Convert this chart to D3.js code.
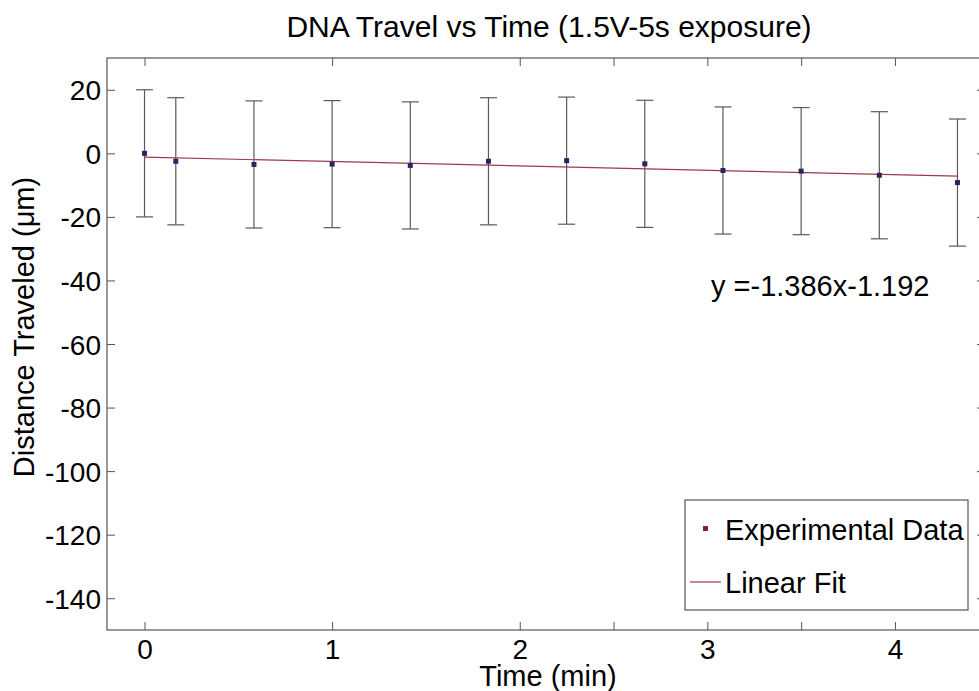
<!DOCTYPE html>
<html>
<head>
<meta charset="utf-8">
<script src="https://cdn.jsdelivr.net/npm/d3@7"></script>
<style>
  html, body { margin: 0; padding: 0; background: #fff; }
  svg { display: block; }
  text { font-family: "Liberation Sans", Arial, sans-serif; fill: #000; }
</style>
</head>
<body>
<svg id="chart" width="979" height="691"></svg>
<script>
// Measured travel of DNA over time, minutes vs micrometres
const timeMin = [0, 0.1667, 0.5833, 1.0, 1.4167, 1.8333, 2.25, 2.6667, 3.0833, 3.5, 3.9167, 4.3333];
const distance = [0, -2.5, -3.5, -3.4, -3.8, -2.5, -2.3, -3.3, -5.4, -5.6, -6.9, -9.2];
const errHalf = [20, 20, 20, 20, 20, 20, 20, 20, 20, 20, 20, 20];

// Linear fit y = slope * x + intercept
const fitSlope = -1.386;
const fitIntercept = -1.192;
const fitLabel = "y =-1.386x-1.192";

const xTicks = [0, 1, 2, 2.5, 3, 3.5, 4];
const xTickLabels = ["0", "1", "2", "", "3", "", "4"];
const yTicks = [-140, -120, -100, -80, -60, -40, -20, 0, 20];
const yTickLabels = ["-140", "-120", "-100", "-80", "-60", "-40", "-20", "0", "20"];

const titleText = "DNA Travel vs Time (1.5V-5s exposure)";
const xLabel = "Time (min)";
const yLabel = "Distance Traveled (\u03bcm)";
const legendLabels = ["Experimental Data", "Linear Fit"];

const svg = d3.select("#chart");
const plot = { left: 107, right: 985, top: 58, bottom: 630 };

const x = d3.scaleLinear().domain([-0.2, 4.48]).range([plot.left, plot.right]);
const y = d3.scaleLinear().domain([-150, 30]).range([plot.bottom, plot.top]);

const axisColor = "#555";
const tickFont = 28;
const textFont = 29;
const titleFont = 30;

// Frame of the axes box
svg.append("rect")
  .attr("x", plot.left).attr("y", plot.top)
  .attr("width", plot.right - plot.left).attr("height", plot.bottom - plot.top)
  .attr("fill", "#fff").attr("stroke", axisColor).attr("stroke-width", 1.2);

// Axes: ticks point inward on all four sides
function styleAxis(g) {
  g.select(".domain").remove();
  g.selectAll(".tick line").attr("stroke", axisColor).attr("stroke-width", 1);
  g.selectAll(".tick text")
    .style("font-family", '"Liberation Sans", Arial, sans-serif')
    .style("font-size", tickFont + "px")
    .attr("fill", "#000");
}

const xBottom = svg.append("g").attr("transform", `translate(0,${plot.bottom})`)
  .call(d3.axisBottom(x).tickValues(xTicks)
    .tickFormat((d, i) => xTickLabels[i]).tickSizeInner(-8).tickSizeOuter(0));
styleAxis(xBottom);
xBottom.selectAll(".tick text").attr("y", 9).attr("dy", "0.71em");

const xTop = svg.append("g").attr("transform", `translate(0,${plot.top})`)
  .call(d3.axisTop(x).tickValues(xTicks).tickFormat("").tickSizeInner(-8).tickSizeOuter(0));
styleAxis(xTop);

const yLeft = svg.append("g").attr("transform", `translate(${plot.left},0)`)
  .call(d3.axisLeft(y).tickValues(yTicks).tickFormat((d, i) => yTickLabels[i])
    .tickSizeInner(-8).tickSizeOuter(0));
styleAxis(yLeft);
yLeft.selectAll(".tick text").attr("x", -6).attr("dy", "0.36em");

const yRight = svg.append("g").attr("transform", `translate(${plot.right},0)`)
  .call(d3.axisRight(y).tickValues(yTicks).tickFormat("").tickSizeInner(-8).tickSizeOuter(0));
styleAxis(yRight);

// Error bars
const data = timeMin.map((t, i) => ({ t, d: distance[i], e: errHalf[i] }));
const capHalf = 8.5;
const eb = svg.append("g").attr("stroke", "#5a5a5a").attr("stroke-width", 1.2).attr("fill", "none");
eb.selectAll("line.v").data(data).join("line").attr("class", "v")
  .attr("x1", p => x(p.t)).attr("x2", p => x(p.t))
  .attr("y1", p => y(p.d + p.e)).attr("y2", p => y(p.d - p.e));
eb.selectAll("line.top").data(data).join("line").attr("class", "top")
  .attr("x1", p => x(p.t) - capHalf).attr("x2", p => x(p.t) + capHalf)
  .attr("y1", p => y(p.d + p.e)).attr("y2", p => y(p.d + p.e));
eb.selectAll("line.bot").data(data).join("line").attr("class", "bot")
  .attr("x1", p => x(p.t) - capHalf).attr("x2", p => x(p.t) + capHalf)
  .attr("y1", p => y(p.d - p.e)).attr("y2", p => y(p.d - p.e));

// Fitted line across the measured time span
const fitColor = "#9a3a4c";
const xs = d3.extent(timeMin);
const fitLine = d3.line().x(t => x(t)).y(t => y(fitSlope * t + fitIntercept));
svg.append("path").datum(xs)
  .attr("d", fitLine).attr("fill", "none").attr("stroke", fitColor).attr("stroke-width", 1.2);

// Data markers
const markerColor = "#2c2460";
const ms = 5;
svg.append("g").selectAll("rect").data(data).join("rect")
  .attr("x", p => x(p.t) - ms / 2).attr("y", p => y(p.d) - ms / 2)
  .attr("width", ms).attr("height", ms).attr("fill", markerColor);

// Fit equation
svg.append("text").attr("x", 711).attr("y", 296)
  .style("font-size", textFont + "px").text(fitLabel);

// Title and axis labels
svg.append("text").attr("x", 549).attr("y", 37).attr("text-anchor", "middle")
  .style("font-size", titleFont + "px").text(titleText);
svg.append("text").attr("x", 548).attr("y", 686).attr("text-anchor", "middle")
  .style("font-size", textFont + "px").text(xLabel);
svg.append("text").attr("transform", "translate(34,327) rotate(-90)").attr("text-anchor", "middle")
  .style("font-size", textFont + "px").text(yLabel);

// Legend
const lg = svg.append("g");
lg.append("rect").attr("x", 685).attr("y", 500).attr("width", 283).attr("height", 110)
  .attr("fill", "#fff").attr("stroke", axisColor).attr("stroke-width", 1.2);
lg.append("rect").attr("x", 703).attr("y", 526).attr("width", 5).attr("height", 5).attr("fill", "#8b1c3c");
lg.append("text").attr("x", 725).attr("y", 540).style("font-size", textFont + "px").text(legendLabels[0]);
lg.append("line").attr("x1", 690).attr("x2", 721).attr("y1", 582).attr("y2", 582)
  .attr("stroke", fitColor).attr("stroke-width", 1.2);
lg.append("text").attr("x", 725).attr("y", 593).style("font-size", textFont + "px").text(legendLabels[1]);
</script>
</body>
</html>
